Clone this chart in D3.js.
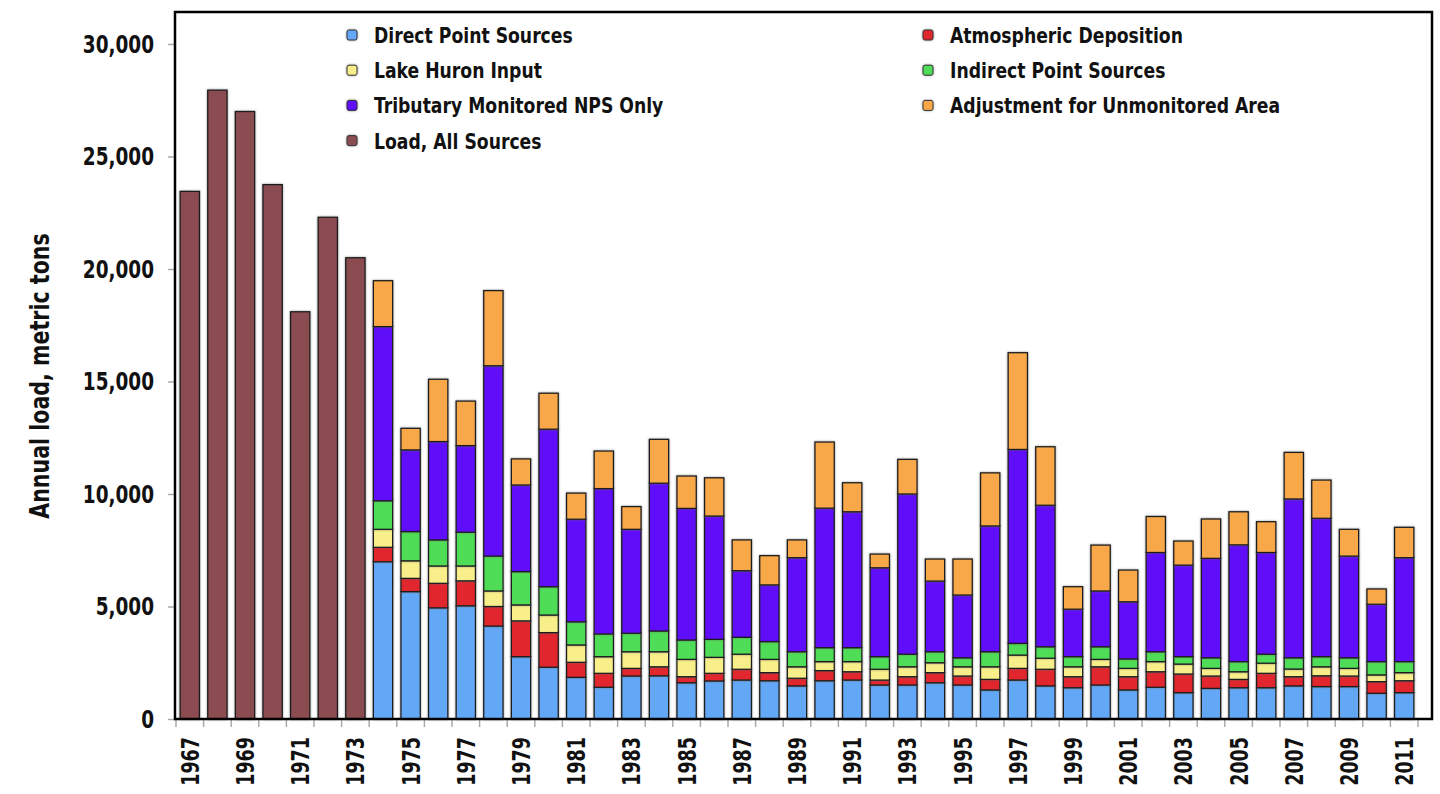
<!DOCTYPE html>
<html>
<head>
<meta charset="utf-8">
<script src="https://cdn.jsdelivr.net/npm/d3@7/dist/d3.min.js"></script>
<style>
  body { margin: 0; background: #fff; }
  svg text {
    font-family: "Liberation Sans Narrow", "DejaVu Sans Condensed", "Roboto Condensed", Roboto, sans-serif;
    font-weight: bold;
    fill: #111;
  }
</style>
</head>
<body>
<div id="chart"></div>
<script>

// years before 1974 only have the total load
var loadYears = [1967, 1968, 1969, 1970, 1971, 1972, 1973];
var loadAllSources = [23450, 27950, 27000, 23750, 18100, 22300, 20500];

var stackYears = [1974, 1975, 1976, 1977, 1978, 1979, 1980, 1981, 1982, 1983,
                  1984, 1985, 1986, 1987, 1988, 1989, 1990, 1991, 1992, 1993,
                  1994, 1995, 1996, 1997, 1998, 1999, 2000, 2001, 2002, 2003,
                  2004, 2005, 2006, 2007, 2008, 2009, 2010, 2011];

var directPointSources = [6990, 5660, 4940, 5030, 4130, 2770, 2300, 1850, 1410, 1910,
                          1920, 1610, 1690, 1730, 1700, 1470, 1700, 1730, 1510, 1510,
                          1610, 1510, 1290, 1730, 1470, 1390, 1510, 1290, 1410, 1170,
                          1360, 1390, 1390, 1470, 1440, 1440, 1140, 1170];
var atmosphericDeposition = [640, 590, 1090, 1110, 870, 1590, 1540, 670, 620, 340,
                             400, 270, 340, 480, 360, 340, 450, 370, 220, 370,
                             450, 400, 470, 520, 740, 490, 810, 590, 690, 830,
                             550, 370, 640, 410, 480, 470, 520, 530];
var lakeHuronInput = [800, 780, 770, 660, 690, 710, 780, 770, 740, 740,
                      670, 770, 710, 670, 590, 510, 400, 450, 480, 440,
                      440, 410, 560, 590, 490, 440, 330, 370, 450, 440,
                      340, 340, 450, 340, 400, 340, 300, 360];
var indirectPointSources = [1270, 1300, 1160, 1500, 1550, 1480, 1260, 1030, 1010, 820,
                            920, 860, 800, 750, 790, 670, 620, 620, 560, 560,
                            490, 400, 670, 520, 510, 450, 560, 420, 440, 330,
                            470, 450, 400, 500, 450, 470, 590, 490];
var tributaryNPS = [7740, 3630, 4370, 3850, 8460, 3850, 7000, 4560, 6460, 4620,
                    6570, 5850, 5480, 2960, 2520, 4180, 6200, 6040, 3950, 7120,
                    3140, 2790, 5590, 8620, 6290, 2110, 2480, 2540, 4410, 4070,
                    4420, 5190, 4520, 7060, 6150, 4520, 2550, 4620];
var unmonitoredAdjustment = [2040, 960, 2770, 1980, 3340, 1160, 1600, 1160, 1670, 1010,
                             1950, 1440, 1700, 1370, 1300, 790, 2940, 1290, 610, 1540,
                             980, 1600, 2360, 4300, 2600, 1000, 2040, 1410, 1600, 1070,
                             1750, 1470, 1370, 2070, 1700, 1190, 680, 1350];

var seriesNames = ["Direct Point Sources", "Atmospheric Deposition", "Lake Huron Input",
                   "Indirect Point Sources", "Tributary Monitored NPS Only",
                   "Adjustment for Unmonitored Area"];
var seriesColors = ["#63a8f6", "#e1262d", "#f8ef8a", "#4fdc57", "#600cf9", "#f9a849"];
var loadName = "Load, All Sources";
var loadColor = "#8a4b51";

var yTickValues = [0, 5000, 10000, 15000, 20000, 25000, 30000];
var yTitle = "Annual load, metric tons";

var allYears = loadYears.concat(stackYears);

var width = 1440, height = 794;
var frame = {left: 175, top: 12, right: 1432, bottom: 719};

var svg = d3.select("#chart")
  .append("svg")
  .attr("width", width)
  .attr("height", height);

// the original uses a condensed face, so squeeze the text along its run
function squeeze(sel, k) {
  sel.each(function() {
    var w = this.getComputedTextLength();
    d3.select(this)
      .attr("textLength", w * k)
      .attr("lengthAdjust", "spacingAndGlyphs");
  });
}

var defs = svg.append("defs");
var shadow = defs.append("filter")
  .attr("id", "shade")
  .attr("x", "-50%").attr("y", "-50%")
  .attr("width", "200%").attr("height", "200%");
shadow.append("feDropShadow")
  .attr("dx", 0).attr("dy", 0)
  .attr("stdDeviation", 1.3)
  .attr("flood-color", "#666")
  .attr("flood-opacity", 0.7);

var x = d3.scaleBand()
  .domain(allYears)
  .range([176, 1418])
  .paddingInner(0.3)
  .paddingOuter(0.15);

var y = d3.scaleLinear()
  .domain([0, 30000])
  .range([frame.bottom, 44]);

// build rows for the stack
var table = stackYears.map(function(yr, i) {
  return {
    year: yr,
    s0: directPointSources[i],
    s1: atmosphericDeposition[i],
    s2: lakeHuronInput[i],
    s3: indirectPointSources[i],
    s4: tributaryNPS[i],
    s5: unmonitoredAdjustment[i]
  };
});
var keys = ["s0", "s1", "s2", "s3", "s4", "s5"];
var stacked = d3.stack().keys(keys)(table);

// y axis
var yAxis = svg.append("g")
  .attr("transform", "translate(" + frame.left + ",0)")
  .call(d3.axisLeft(y).tickValues(yTickValues).tickFormat(d3.format(",")).tickSize(7).tickPadding(14));
yAxis.select(".domain").remove();
yAxis.selectAll(".tick line").attr("stroke", "#aaa").attr("stroke-width", 1.5);
yAxis.selectAll(".tick text")
  .style("font-size", "25px")
  .attr("fill", "#111");
squeeze(yAxis.selectAll(".tick text"), 0.82);

// x ticks on band edges
var step = x.step();
var edges = allYears.map(function(d) { return x(d) + x.bandwidth() / 2 - step / 2; });
edges.push(x(allYears[allYears.length - 1]) + x.bandwidth() / 2 + step / 2);
svg.append("g").selectAll("line")
  .data(edges)
  .enter().append("line")
  .attr("x1", function(d) { return d; })
  .attr("x2", function(d) { return d; })
  .attr("y1", frame.bottom)
  .attr("y2", frame.bottom + 8)
  .attr("stroke", "#aaa")
  .attr("stroke-width", 1.5);

// year labels, every other year
var yearLabels = svg.append("g").selectAll("text")
  .data(allYears.filter(function(d, i) { return i % 2 == 0; }))
  .enter().append("text")
  .attr("transform", function(d) {
    return "translate(" + (x(d) + x.bandwidth() / 2) + "," + (frame.bottom + 18) + ") rotate(-90)";
  })
  .attr("text-anchor", "end")
  .attr("dy", "0.36em")
  .style("font-size", "25px")
  .text(function(d) { return d; });
squeeze(yearLabels, 0.78);

// total load bars
svg.append("g").selectAll("rect")
  .data(loadYears)
  .enter().append("rect")
  .attr("x", function(d) { return x(d); })
  .attr("y", function(d, i) { return y(loadAllSources[i]); })
  .attr("width", x.bandwidth())
  .attr("height", function(d, i) { return y(0) - y(loadAllSources[i]); })
  .attr("fill", loadColor)
  .attr("stroke", "#1e1e1e")
  .attr("stroke-width", 1.3)
  .attr("filter", "url(#shade)");

// stacked bars
var layer = svg.append("g").selectAll("g")
  .data(stacked)
  .enter().append("g")
  .attr("fill", function(d, i) { return seriesColors[i]; });

layer.selectAll("rect")
  .data(function(d) { return d; })
  .enter().append("rect")
  .attr("x", function(d) { return x(d.data.year); })
  .attr("y", function(d) { return y(d[1]); })
  .attr("width", x.bandwidth())
  .attr("height", function(d) { return y(d[0]) - y(d[1]); })
  .attr("stroke", "#1e1e1e")
  .attr("stroke-width", 1.3)
  .attr("filter", "url(#shade)");

// frame
svg.append("rect")
  .attr("x", frame.left)
  .attr("y", frame.top)
  .attr("width", frame.right - frame.left)
  .attr("height", frame.bottom - frame.top)
  .attr("fill", "none")
  .attr("stroke", "#000")
  .attr("stroke-width", 2.5);

// y title
var title = svg.append("text")
  .attr("transform", "translate(40,376) rotate(-90)")
  .attr("text-anchor", "middle")
  .attr("dy", "0.35em")
  .style("font-size", "26px")
  .text(yTitle);
squeeze(title, 0.88);

// legend, two columns
var legendItems = seriesNames.map(function(n, i) { return {name: n, color: seriesColors[i]}; });
legendItems.push({name: loadName, color: loadColor});

var legend = svg.append("g").selectAll("g")
  .data(legendItems)
  .enter().append("g")
  .attr("transform", function(d, i) {
    var cx = (i % 2 == 0) ? 347 : 923;
    var cy = 35 + Math.floor(i / 2) * 35.2;
    return "translate(" + cx + "," + cy + ")";
  });

legend.append("rect")
  .attr("x", 0)
  .attr("y", -5)
  .attr("width", 10)
  .attr("height", 10)
  .attr("rx", 2)
  .attr("fill", function(d) { return d.color; })
  .attr("stroke", "#333")
  .attr("stroke-width", 1)
  .attr("filter", "url(#shade)");

var legendText = legend.append("text")
  .attr("x", 27)
  .attr("dy", "0.36em")
  .style("font-size", "22px")
  .text(function(d) { return d.name; });
squeeze(legendText, 0.87);

</script>
</body>
</html>
